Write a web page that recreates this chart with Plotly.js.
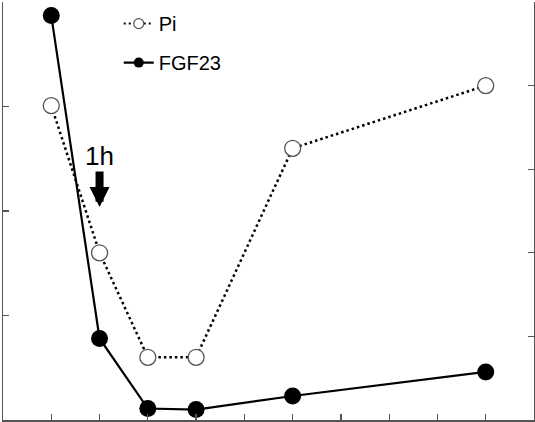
<!DOCTYPE html>
<html><head><meta charset="utf-8">
<script src="https://cdn.plot.ly/plotly-3.0.1.min.js"></script>
<style>html,body{margin:0;padding:0;background:#fff}</style></head>
<body><div id="chart" style="width:535px;height:422px"></div>
<script>
const timePoints = [1, 2, 3, 4, 6, 10];
const fgf23 = [3.87, 0.78, 0.11, 0.10, 0.23, 0.46];
const pi = [3.76, 2.0, 0.75, 0.75, 3.25, 4.0];
const xTicks = [1, 2, 3, 4, 5, 6, 7, 8, 9, 10];
const seriesNames = ['Pi', 'FGF23'];

const axisColor = '#555';
const piLine = {color: '#000', width: 2.5, dash: '2.5px,3px'};
const fgfLine = {color: '#000', width: 2.2};
const traces = [
  {
    x: timePoints, y: pi, name: seriesNames[0], yaxis: 'y2', type: 'scatter', mode: 'lines+markers',
    showlegend: false, line: piLine,
    marker: {size: 16, color: '#fff', line: {color: '#555', width: 1.3}}
  },
  {
    x: timePoints, y: fgf23, name: seriesNames[1], yaxis: 'y', type: 'scatter', mode: 'lines+markers',
    showlegend: false, line: fgfLine,
    marker: {size: 17, color: '#000'}
  },
  // legend-only entries (no data) with smaller legend symbols
  {
    x: [null], y: [null], name: seriesNames[0], yaxis: 'y2', type: 'scatter', mode: 'lines+markers',
    legendgroup: 'a', line: {color: '#000', width: 2, dash: '2px,3px'},
    marker: {size: 10, color: '#fff', line: {color: '#555', width: 1.2}}
  },
  {
    x: [null], y: [null], name: seriesNames[1], yaxis: 'y', type: 'scatter', mode: 'lines+markers',
    legendgroup: 'b', line: {color: '#000', width: 2.2},
    marker: {size: 10, color: '#000'}
  }
];

const layout = {
  width: 535, height: 422,
  margin: {l: 3, r: 1, t: 2, b: 2},
  paper_bgcolor: '#fff', plot_bgcolor: '#fff',
  font: {family: 'Liberation Sans, Arial, sans-serif', color: '#000'},
  showlegend: true,
  legend: {x: 0.218, y: 0.995, xanchor: 'left', yanchor: 'top', traceorder: 'grouped',
           tracegroupgap: 10, itemsizing: 'trace', itemwidth: 30,
           font: {size: 20, color: '#000'}, bgcolor: 'rgba(0,0,0,0)'},
  xaxis: {range: [0, 11], tickvals: xTicks, showticklabels: false, ticks: 'inside', ticklen: 6,
          tickcolor: axisColor, tickwidth: 1.2, showline: true, linecolor: axisColor, linewidth: 1.5,
          showgrid: false, zeroline: false},
  yaxis: {range: [0, 4], dtick: 1, showticklabels: false, ticks: 'inside', ticklen: 6,
          tickcolor: axisColor, tickwidth: 1.2, showline: true, linecolor: axisColor, linewidth: 1.5,
          showgrid: false, zeroline: false},
  yaxis2: {range: [0, 5], dtick: 1, overlaying: 'y', side: 'right', showticklabels: false,
           ticks: 'inside', ticklen: 6, tickcolor: axisColor, tickwidth: 1.2, showline: true,
           linecolor: axisColor, linewidth: 1.5, showgrid: false, zeroline: false},
  annotations: [
    {x: 2, xref: 'x', y: 0.632, yref: 'paper', text: '1h', showarrow: false,
     font: {size: 26, color: '#000'}, xanchor: 'center', yanchor: 'middle'},
    {x: 2, xref: 'x', y: 0.5096, yref: 'paper', text: '', showarrow: true,
     ax: 0, ay: -37, arrowhead: 2, arrowsize: 0.5, arrowwidth: 8, arrowcolor: '#000'}
  ]
};

Plotly.newPlot('chart', traces, layout, {displayModeBar: false, staticPlot: true});
</script></body></html>
